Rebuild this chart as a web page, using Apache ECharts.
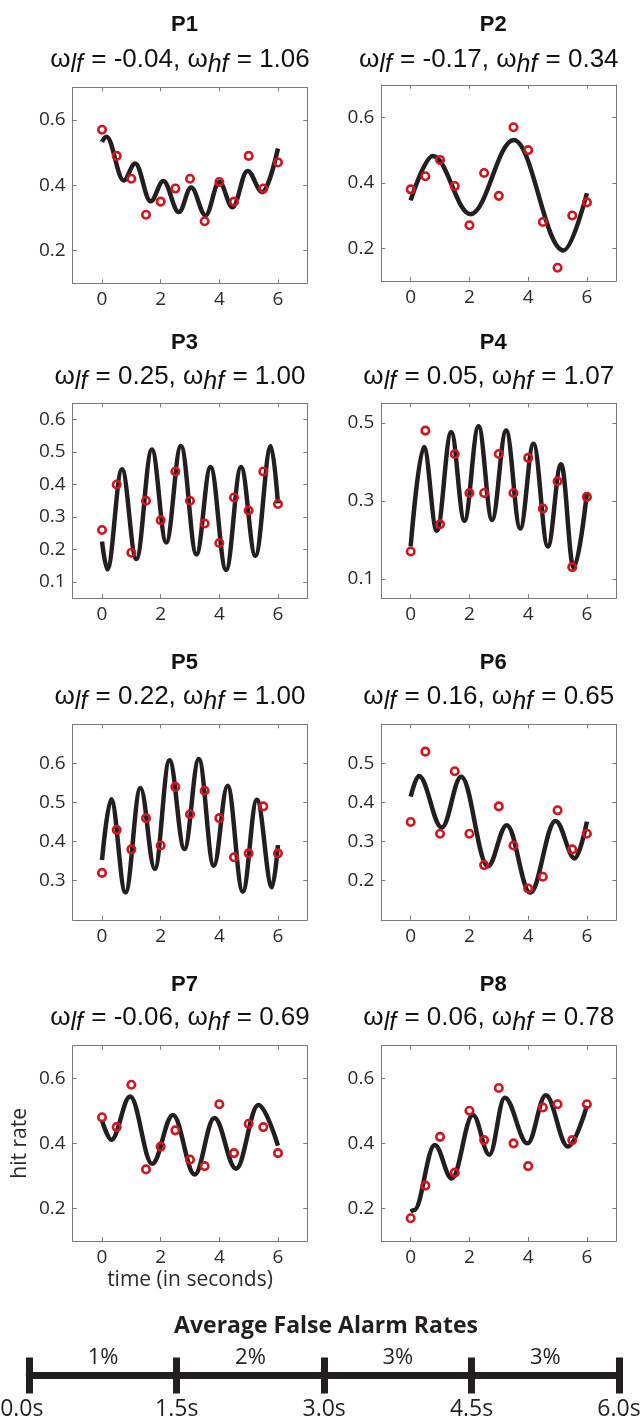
<!DOCTYPE html>
<html><head><meta charset="utf-8">
<script src="https://cdn.jsdelivr.net/npm/echarts@6/dist/echarts.min.js"></script>
<style>html,body{margin:0;padding:0;background:#fff}#c{width:642px;height:1421px}</style>
</head><body><div id="c"></div>
<script>
// ---------------- DATA ----------------
const times = [0, 0.5, 1, 1.5, 2, 2.5, 3, 3.5, 4, 4.5, 5, 5.5, 6];
const panelNames = ['P1', 'P2', 'P3', 'P4', 'P5', 'P6', 'P7', 'P8'];
const wLf = ['-0.04', '-0.17', '0.25', '0.05', '0.22', '0.16', '-0.06', '0.06'];
const wHf = ['1.06', '0.34', '1.00', '1.07', '1.00', '0.65', '0.69', '0.78'];

const p1Hits = [0.57, 0.49, 0.42, 0.31, 0.35, 0.39, 0.42, 0.29, 0.41, 0.35, 0.49, 0.39, 0.47];
const p1CurveT = [0, 0.15, 0.74, 1.13, 1.66, 2.09, 2.62, 3.04, 3.53, 4.0, 4.45, 4.96, 5.47, 6];
const p1CurveV = [0.533, 0.549, 0.415, 0.467, 0.351, 0.413, 0.318, 0.393, 0.308, 0.410, 0.333, 0.444, 0.379, 0.513];

const p2Hits = [0.38, 0.42, 0.47, 0.39, 0.27, 0.43, 0.36, 0.57, 0.50, 0.28, 0.14, 0.30, 0.34];
const p2CurveT = [0, 0.76, 2.04, 3.51, 5.2, 6];
const p2CurveV = [0.346, 0.482, 0.304, 0.531, 0.193, 0.368];

const p3Hits = [0.26, 0.40, 0.19, 0.35, 0.29, 0.44, 0.35, 0.28, 0.22, 0.36, 0.32, 0.44, 0.34];
const p3CurveT = [0, 0.18, 0.68, 1.17, 1.70, 2.19, 2.69, 3.22, 3.70, 4.23, 4.74, 5.23, 5.76, 6];
const p3CurveV = [0.225, 0.139, 0.447, 0.171, 0.508, 0.222, 0.519, 0.185, 0.454, 0.137, 0.454, 0.181, 0.519, 0.342];

const p4Hits = [0.17, 0.48, 0.24, 0.42, 0.32, 0.32, 0.42, 0.32, 0.41, 0.28, 0.35, 0.13, 0.31];
const p4CurveT = [0, 0.45, 0.89, 1.38, 1.83, 2.31, 2.77, 3.25, 3.73, 4.18, 4.67, 5.12, 5.55, 6];
const p4CurveV = [0.183, 0.438, 0.223, 0.476, 0.249, 0.491, 0.251, 0.480, 0.229, 0.446, 0.183, 0.394, 0.128, 0.321];

const p5Hits = [0.32, 0.43, 0.38, 0.46, 0.39, 0.54, 0.47, 0.53, 0.46, 0.36, 0.37, 0.49, 0.37];
const p5CurveT = [0, 0.31, 0.80, 1.31, 1.80, 2.30, 2.81, 3.30, 3.81, 4.28, 4.80, 5.28, 5.80, 6];
const p5CurveV = [0.353, 0.508, 0.270, 0.537, 0.330, 0.608, 0.381, 0.611, 0.338, 0.543, 0.272, 0.507, 0.283, 0.391];

const p6Hits = [0.35, 0.53, 0.32, 0.48, 0.32, 0.24, 0.39, 0.29, 0.18, 0.21, 0.38, 0.28, 0.32];
const p6CurveT = [0, 0.28, 1.06, 1.72, 2.63, 3.27, 4.07, 4.93, 5.59, 6];
const p6CurveV = [0.415, 0.468, 0.336, 0.466, 0.237, 0.342, 0.169, 0.353, 0.257, 0.351];

const p7Hits = [0.48, 0.45, 0.58, 0.32, 0.39, 0.44, 0.35, 0.33, 0.52, 0.37, 0.46, 0.45, 0.37];
const p7CurveT = [0, 0.32, 0.96, 1.71, 2.42, 3.16, 3.83, 4.57, 5.33, 6];
const p7CurveV = [0.470, 0.411, 0.544, 0.337, 0.487, 0.304, 0.478, 0.322, 0.518, 0.393];

const p8Hits = [0.17, 0.27, 0.42, 0.31, 0.50, 0.41, 0.57, 0.40, 0.33, 0.51, 0.52, 0.41, 0.52];
const p8CurveT = [0, 0.12, 0.82, 1.40, 2.12, 2.68, 3.2, 3.98, 4.6, 5.35, 6];
const p8CurveV = [0.19, 0.195, 0.395, 0.292, 0.487, 0.365, 0.54, 0.40, 0.548, 0.39, 0.515];

const xTicks = [0, 2, 4, 6];
const xRange = [-1, 7];
const yRanges = [[0.1, 0.7], [0.1, 0.7], [0.05, 0.65], [0.05, 0.55], [0.2, 0.7], [0.1, 0.6], [0.1, 0.7], [0.1, 0.7]];
const yTicks = [
  [0.2, 0.4, 0.6], [0.2, 0.4, 0.6],
  [0.1, 0.2, 0.3, 0.4, 0.5, 0.6], [0.1, 0.3, 0.5],
  [0.3, 0.4, 0.5, 0.6], [0.2, 0.3, 0.4, 0.5],
  [0.2, 0.4, 0.6], [0.2, 0.4, 0.6]
];
const xAxisName = 'time (in seconds)';
const yAxisName = 'hit rate';

const faTitle = 'Average False Alarm Rates';
const faBoundaries = [0, 1.5, 3, 4.5, 6];
const faRates = ['1%', '2%', '3%', '3%'];

// ---------------- LAYOUT / STYLE ----------------
const LAYOUT = [
  {left: 72.7, top: 87.3, width: 234.6, height: 196},
  {left: 381.3, top: 84.8, width: 235, height: 196},
  {left: 72.7, top: 403.3, width: 234.6, height: 195},
  {left: 381.3, top: 403.3, width: 235, height: 195},
  {left: 72.7, top: 724.3, width: 234.6, height: 195.5},
  {left: 381.3, top: 724.3, width: 235, height: 195.5},
  {left: 72.7, top: 1045.7, width: 234.6, height: 195.3},
  {left: 381.3, top: 1045.7, width: 235, height: 195.3}
];
const TITLE_Y = [25, 25, 343, 343, 662.5, 662.5, 985, 985];
const SUB_Y = [61, 61, 378, 378, 698, 698, 1019, 1019];

const FONT = '"Open Sans", "Noto Sans", sans-serif';
const TFONT = '"Liberation Sans", Arial, sans-serif';
const BOX = '#7a7a7a', LAB = '#2b2b2b', INK = '#231f20', RED = '#d0161e';

const panelHits = [p1Hits, p2Hits, p3Hits, p4Hits, p5Hits, p6Hits, p7Hits, p8Hits];
const panelCurveT = [p1CurveT, p2CurveT, p3CurveT, p4CurveT, p5CurveT, p6CurveT, p7CurveT, p8CurveT];
const panelCurveV = [p1CurveV, p2CurveV, p3CurveV, p4CurveV, p5CurveV, p6CurveV, p7CurveV, p8CurveV];

const grid = [], xAxis = [], yAxis = [], series = [], graphic = [];

panelNames.forEach((name, i) => {
  const g = LAYOUT[i];
  grid.push({left: g.left, top: g.top, width: g.width, height: g.height, show: false,
    containLabel: false, outerBoundsMode: 'none'});
  const xb = xAxis.length, yb = yAxis.length;
  const tickStyle = {show: true, inside: true, length: 4, lineStyle: {color: BOX, width: 1}};
  const lineStyle = {show: true, onZero: false, lineStyle: {color: BOX, width: 1}};
  const labStyle = {fontSize: 19, fontFamily: FONT, color: LAB};
  const nameStyle = {fontSize: 21, fontFamily: FONT, color: LAB};
  xAxis.push({
    gridIndex: i, type: 'value', position: 'bottom', min: xRange[0], max: xRange[1],
    splitLine: {show: false}, axisLine: lineStyle,
    axisTick: Object.assign({customValues: xTicks}, tickStyle),
    axisLabel: Object.assign({customValues: xTicks, margin: 7, formatter: v => String(v)}, labStyle),
    name: i === 6 ? xAxisName : '', nameLocation: 'middle', nameGap: 29,
    nameTextStyle: nameStyle
  });
  xAxis.push({
    gridIndex: i, type: 'value', position: 'top', min: xRange[0], max: xRange[1],
    splitLine: {show: false}, axisLine: lineStyle,
    axisTick: Object.assign({customValues: xTicks}, tickStyle),
    axisLabel: {show: false}
  });
  yAxis.push({
    gridIndex: i, type: 'value', position: 'left', min: yRanges[i][0], max: yRanges[i][1],
    splitLine: {show: false}, axisLine: lineStyle,
    axisTick: Object.assign({customValues: yTicks[i]}, tickStyle),
    axisLabel: Object.assign({customValues: yTicks[i], margin: 7, formatter: v => v.toFixed(1)}, labStyle),
    name: i === 6 ? yAxisName : '', nameLocation: 'middle', nameGap: 42, nameRotate: 90,
    nameTextStyle: nameStyle
  });
  yAxis.push({
    gridIndex: i, type: 'value', position: 'right', min: yRanges[i][0], max: yRanges[i][1],
    splitLine: {show: false}, axisLine: lineStyle,
    axisTick: Object.assign({customValues: yTicks[i]}, tickStyle),
    axisLabel: {show: false}
  });
  series.push({
    type: 'line', xAxisIndex: xb, yAxisIndex: yb,
    data: panelCurveT[i].map((t, k) => [t, panelCurveV[i][k]]),
    smooth: 0.37, smoothMonotone: 'x', showSymbol: false, symbol: 'none',
    lineStyle: {color: INK, width: 4.5}, z: 2, silent: true
  });
  series.push({
    type: 'scatter', xAxisIndex: xb, yAxisIndex: yb,
    data: times.map((t, k) => [t, panelHits[i][k]]),
    symbol: 'circle', symbolSize: 7.5,
    itemStyle: {color: 'rgba(0,0,0,0)', borderColor: RED, borderWidth: 2.6, opacity: 1},
    z: 3, silent: true
  });
  const cx = g.left + g.width / 2;
  graphic.push({
    type: 'text', x: cx - 5.5, y: TITLE_Y[i],
    style: {text: name, fontSize: 22, fontWeight: 'bold', fontFamily: TFONT, fill: '#111',
      textAlign: 'center', textVerticalAlign: 'middle'}
  });
  graphic.push({
    type: 'text', x: cx - 10, y: SUB_Y[i],
    style: {
      text: '{t|ω}{s|lf}{t| = ' + wLf[i] + ', ω}{s|hf}{t| = ' + wHf[i] + '}',
      textAlign: 'center', textVerticalAlign: 'middle',
      rich: {
        t: {fontSize: 26, fontFamily: TFONT, fill: '#111', lineHeight: 29, verticalAlign: 'top'},
        s: {fontSize: 25, fontStyle: 'italic', fontFamily: TFONT, fill: '#111', lineHeight: 29,
            padding: [6, 1, 0, 0], verticalAlign: 'top'}
      }
    }
  });
});

// ---------------- timeline ----------------
const tg = grid.length;
grid.push({left: 29.3, width: 589.7, top: 1300, height: 75.5, show: false,
  containLabel: false, outerBoundsMode: 'none'});
const faMids = faBoundaries.slice(0, -1).map((b, k) => (b + faBoundaries[k + 1]) / 2);
const tlStyle = {color: INK, width: 7};
const tx = xAxis.length;
xAxis.push({
  gridIndex: tg, type: 'value', position: 'bottom', min: faBoundaries[0], max: faBoundaries[faBoundaries.length - 1],
  splitLine: {show: false},
  axisLine: {show: true, onZero: false, lineStyle: tlStyle},
  axisTick: {show: true, inside: false, length: 18, customValues: faBoundaries, lineStyle: tlStyle},
  axisLabel: {customValues: faBoundaries, margin: 22, fontSize: 23, fontFamily: FONT, color: INK,
    showMinLabel: true, showMaxLabel: true,
    formatter: v => v === faBoundaries[0] ? '{a|' + v.toFixed(1) + 's}' : v.toFixed(1) + 's',
    rich: {a: {fontSize: 23, fontFamily: FONT, color: INK, padding: [0, 15, 0, 0]}}}
});
xAxis.push({
  gridIndex: tg, type: 'value', position: 'bottom', min: faBoundaries[0], max: faBoundaries[faBoundaries.length - 1],
  splitLine: {show: false},
  axisLine: {show: false, onZero: false},
  axisTick: {show: true, inside: true, length: 18, customValues: faBoundaries, lineStyle: tlStyle},
  axisLabel: {show: false}
});
xAxis.push({
  gridIndex: tg, type: 'value', position: 'bottom', min: faBoundaries[0], max: faBoundaries[faBoundaries.length - 1],
  splitLine: {show: false},
  axisLine: {show: false, onZero: false},
  axisTick: {show: false},
  axisLabel: {inside: true, customValues: faMids, margin: 7, fontSize: 22, fontFamily: FONT, color: INK,
    formatter: v => faRates[faMids.indexOf(v)]}
});
const ty = yAxis.length;
yAxis.push({gridIndex: tg, type: 'value', show: false, min: 0, max: 1});
series.push({type: 'line', xAxisIndex: tx, yAxisIndex: ty, data: [], silent: true});

graphic.push({
  type: 'text', x: 326, y: 1326,
  style: {text: faTitle, fontSize: 23, fontWeight: 'bold', fontFamily: FONT, fill: INK,
    textAlign: 'center', textVerticalAlign: 'middle'}
});

const chart = echarts.init(document.getElementById('c'), null, {renderer: 'canvas'});
chart.setOption({
  animation: false,
  backgroundColor: '#ffffff',
  grid, xAxis, yAxis, series, graphic
});
</script>
</body></html>
